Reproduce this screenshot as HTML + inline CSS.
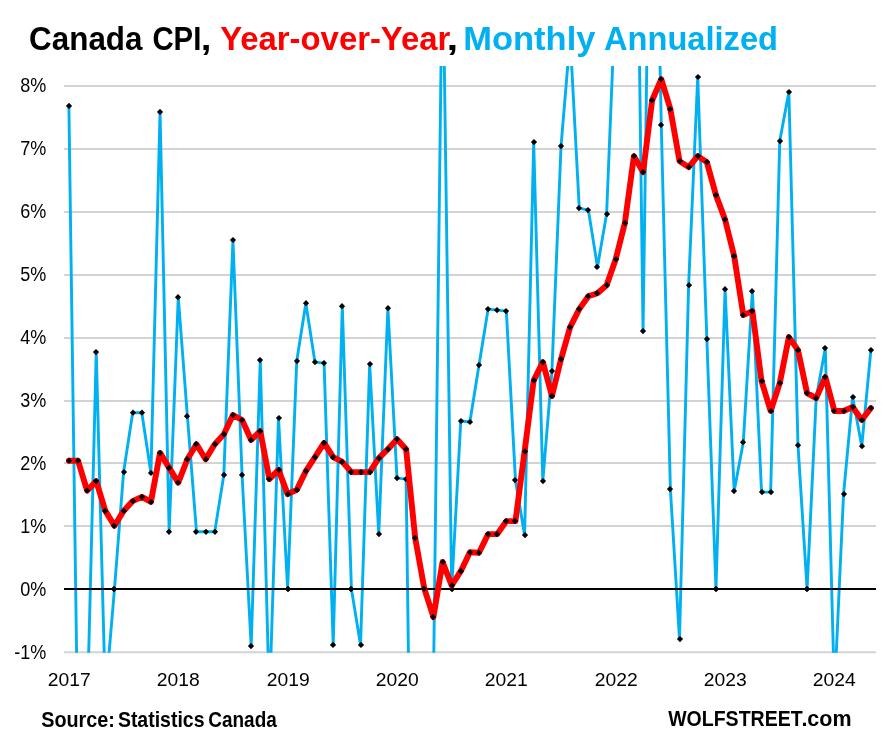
<!DOCTYPE html>
<html lang="en"><head><meta charset="utf-8"><title>Canada CPI, Year-over-Year, Monthly Annualized</title>
<style>
html,body{margin:0;padding:0;background:#fff;}
body{width:883px;height:745px;overflow:hidden;}
svg{display:block;}
text{font-family:"Liberation Sans",sans-serif;}
.ax{font-size:19.7px;fill:#000;}
.ay{font-size:17.8px;fill:#000;}
.ti{font-size:34.1px;font-weight:bold;}
.ft{font-size:22px;font-weight:bold;}
</style></head><body>
<svg width="883" height="745" viewBox="0 0 883 745">
<rect width="883" height="745" fill="#fff"/>
<defs><clipPath id="plot"><rect x="64.0" y="66.0" width="812.0" height="586.8000000000001"/></clipPath></defs>
<line x1="64.0" x2="876.0" y1="652.20" y2="652.20" stroke="#d3d3d3" stroke-width="1.9"/>
<line x1="64.0" x2="876.0" y1="526.00" y2="526.00" stroke="#d3d3d3" stroke-width="1.9"/>
<line x1="64.0" x2="876.0" y1="463.00" y2="463.00" stroke="#d3d3d3" stroke-width="1.9"/>
<line x1="64.0" x2="876.0" y1="401.00" y2="401.00" stroke="#d3d3d3" stroke-width="1.9"/>
<line x1="64.0" x2="876.0" y1="338.00" y2="338.00" stroke="#d3d3d3" stroke-width="1.9"/>
<line x1="64.0" x2="876.0" y1="275.00" y2="275.00" stroke="#d3d3d3" stroke-width="1.9"/>
<line x1="64.0" x2="876.0" y1="212.00" y2="212.00" stroke="#d3d3d3" stroke-width="1.9"/>
<line x1="64.0" x2="876.0" y1="149.00" y2="149.00" stroke="#d3d3d3" stroke-width="1.9"/>
<line x1="64.0" x2="876.0" y1="86.00" y2="86.00" stroke="#d3d3d3" stroke-width="1.9"/>
<g clip-path="url(#plot)">
<polyline points="68.90,105.90 78.01,755.00 87.13,716.00 96.24,352.10 105.35,697.00 114.47,589.00 123.58,472.10 132.69,412.70 141.81,412.70 150.92,473.00 160.04,111.90 169.15,531.80 178.26,297.20 187.38,416.20 196.49,531.80 205.60,531.80 214.72,531.80 223.83,474.90 232.94,240.00 242.06,474.90 251.17,646.10 260.28,360.10 269.40,702.00 278.51,418.00 287.62,589.00 296.74,361.10 305.85,303.20 314.96,362.10 324.08,363.10 333.19,644.90 342.31,306.20 351.42,589.00 360.53,644.90 369.65,364.10 378.76,534.10 387.87,308.20 396.99,478.10 406.10,479.10 415.21,1163.00 424.33,1100.00 433.44,685.00 442.55,-61.00 451.67,589.00 460.78,421.00 469.89,422.00 479.01,365.10 488.12,309.10 497.23,310.10 506.35,311.10 515.46,480.10 524.58,535.10 533.69,142.10 542.80,481.10 551.92,371.10 561.03,146.10 570.14,37.00 579.26,208.10 588.37,210.10 597.48,266.90 606.60,214.10 615.71,-10.00 624.82,-100.00 633.94,-358.00 643.05,331.10 652.16,-320.00 661.28,124.90 670.39,489.10 679.50,639.10 688.62,285.20 697.73,77.00 706.85,339.10 715.96,589.00 725.07,289.20 734.19,491.10 743.30,442.20 752.41,291.20 761.53,492.10 770.64,492.10 779.75,141.10 788.87,92.00 797.98,445.20 807.09,589.00 816.21,398.00 825.32,348.10 834.43,693.00 843.55,494.10 852.66,397.00 861.77,446.20 870.89,350.10" fill="none" stroke="#00b0f0" stroke-width="2.9" stroke-linejoin="round" stroke-linecap="round"/>
<path d="M65.9 105.9L69.0 102.8L72.1 105.9L69.0 109.0ZM92.9 352.1L96.0 349.0L99.1 352.1L96.0 355.2ZM110.9 589.0L114.0 585.9L117.1 589.0L114.0 592.1ZM120.9 472.1L124.0 469.0L127.1 472.1L124.0 475.2ZM129.9 412.7L133.0 409.6L136.1 412.7L133.0 415.8ZM138.9 412.7L142.0 409.6L145.1 412.7L142.0 415.8ZM147.9 473.0L151.0 469.9L154.1 473.0L151.0 476.1ZM156.9 111.9L160.0 108.8L163.1 111.9L160.0 115.0ZM165.9 531.8L169.0 528.7L172.1 531.8L169.0 534.9ZM174.9 297.2L178.0 294.1L181.1 297.2L178.0 300.3ZM183.9 416.2L187.0 413.1L190.1 416.2L187.0 419.3ZM192.9 531.8L196.0 528.7L199.1 531.8L196.0 534.9ZM202.9 531.8L206.0 528.7L209.1 531.8L206.0 534.9ZM211.9 531.8L215.0 528.7L218.1 531.8L215.0 534.9ZM220.9 474.9L224.0 471.8L227.1 474.9L224.0 478.0ZM229.9 240.0L233.0 236.9L236.1 240.0L233.0 243.1ZM238.9 474.9L242.0 471.8L245.1 474.9L242.0 478.0ZM247.9 646.1L251.0 643.0L254.1 646.1L251.0 649.2ZM256.9 360.1L260.0 357.0L263.1 360.1L260.0 363.2ZM275.9 418.0L279.0 414.9L282.1 418.0L279.0 421.1ZM284.9 589.0L288.0 585.9L291.1 589.0L288.0 592.1ZM293.9 361.1L297.0 358.0L300.1 361.1L297.0 364.2ZM302.9 303.2L306.0 300.1L309.1 303.2L306.0 306.3ZM311.9 362.1L315.0 359.0L318.1 362.1L315.0 365.2ZM320.9 363.1L324.0 360.0L327.1 363.1L324.0 366.2ZM329.9 644.9L333.0 641.8L336.1 644.9L333.0 648.0ZM338.9 306.2L342.0 303.1L345.1 306.2L342.0 309.3ZM347.9 589.0L351.0 585.9L354.1 589.0L351.0 592.1ZM357.9 644.9L361.0 641.8L364.1 644.9L361.0 648.0ZM366.9 364.1L370.0 361.0L373.1 364.1L370.0 367.2ZM375.9 534.1L379.0 531.0L382.1 534.1L379.0 537.2ZM384.9 308.2L388.0 305.1L391.1 308.2L388.0 311.3ZM393.9 478.1L397.0 475.0L400.1 478.1L397.0 481.2ZM402.9 479.1L406.0 476.0L409.1 479.1L406.0 482.2ZM448.9 589.0L452.0 585.9L455.1 589.0L452.0 592.1ZM457.9 421.0L461.0 417.9L464.1 421.0L461.0 424.1ZM466.9 422.0L470.0 418.9L473.1 422.0L470.0 425.1ZM475.9 365.1L479.0 362.0L482.1 365.1L479.0 368.2ZM484.9 309.1L488.0 306.0L491.1 309.1L488.0 312.2ZM493.9 310.1L497.0 307.0L500.1 310.1L497.0 313.2ZM502.9 311.1L506.0 308.0L509.1 311.1L506.0 314.2ZM511.9 480.1L515.0 477.0L518.1 480.1L515.0 483.2ZM521.9 535.1L525.0 532.0L528.1 535.1L525.0 538.2ZM530.9 142.1L534.0 139.0L537.1 142.1L534.0 145.2ZM539.9 481.1L543.0 478.0L546.1 481.1L543.0 484.2ZM548.9 371.1L552.0 368.0L555.1 371.1L552.0 374.2ZM557.9 146.1L561.0 143.0L564.1 146.1L561.0 149.2ZM575.9 208.1L579.0 205.0L582.1 208.1L579.0 211.2ZM584.9 210.1L588.0 207.0L591.1 210.1L588.0 213.2ZM593.9 266.9L597.0 263.8L600.1 266.9L597.0 270.0ZM603.9 214.1L607.0 211.0L610.1 214.1L607.0 217.2ZM639.9 331.1L643.0 328.0L646.1 331.1L643.0 334.2ZM657.9 124.9L661.0 121.8L664.1 124.9L661.0 128.0ZM666.9 489.1L670.0 486.0L673.1 489.1L670.0 492.2ZM676.9 639.1L680.0 636.0L683.1 639.1L680.0 642.2ZM685.9 285.2L689.0 282.1L692.1 285.2L689.0 288.3ZM694.9 77.0L698.0 73.9L701.1 77.0L698.0 80.1ZM703.9 339.1L707.0 336.0L710.1 339.1L707.0 342.2ZM712.9 589.0L716.0 585.9L719.1 589.0L716.0 592.1ZM721.9 289.2L725.0 286.1L728.1 289.2L725.0 292.3ZM730.9 491.1L734.0 488.0L737.1 491.1L734.0 494.2ZM739.9 442.2L743.0 439.1L746.1 442.2L743.0 445.3ZM748.9 291.2L752.0 288.1L755.1 291.2L752.0 294.3ZM758.9 492.1L762.0 489.0L765.1 492.1L762.0 495.2ZM767.9 492.1L771.0 489.0L774.1 492.1L771.0 495.2ZM776.9 141.1L780.0 138.0L783.1 141.1L780.0 144.2ZM785.9 92.0L789.0 88.9L792.1 92.0L789.0 95.1ZM794.9 445.2L798.0 442.1L801.1 445.2L798.0 448.3ZM803.9 589.0L807.0 585.9L810.1 589.0L807.0 592.1ZM812.9 398.0L816.0 394.9L819.1 398.0L816.0 401.1ZM821.9 348.1L825.0 345.0L828.1 348.1L825.0 351.2ZM840.9 494.1L844.0 491.0L847.1 494.1L844.0 497.2ZM849.9 397.0L853.0 393.9L856.1 397.0L853.0 400.1ZM858.9 446.2L862.0 443.1L865.1 446.2L862.0 449.3ZM867.9 350.1L871.0 347.0L874.1 350.1L871.0 353.2Z" fill="#000"/>
</g>
<line x1="64.0" x2="876.0" y1="589.00" y2="589.00" stroke="#000" stroke-width="2.2"/>
<g clip-path="url(#plot)">
<path d="M110.9 589.0L114.0 585.9L117.1 589.0L114.0 592.1ZM284.9 589.0L288.0 585.9L291.1 589.0L288.0 592.1ZM347.9 589.0L351.0 585.9L354.1 589.0L351.0 592.1ZM448.9 589.0L452.0 585.9L455.1 589.0L452.0 592.1ZM712.9 589.0L716.0 585.9L719.1 589.0L716.0 592.1ZM803.9 589.0L807.0 585.9L810.1 589.0L807.0 592.1Z" fill="#000"/>
<polyline points="68.90,460.70 78.01,460.70 87.13,490.60 96.24,481.10 105.35,510.90 114.47,525.80 123.58,510.90 132.69,501.10 141.81,496.90 150.92,501.90 160.04,452.90 169.15,467.90 178.26,482.60 187.38,459.20 196.49,444.20 205.60,459.20 214.72,444.20 223.83,434.20 232.94,415.00 242.06,420.00 251.17,439.90 260.28,431.20 269.40,479.10 278.51,469.90 287.62,494.10 296.74,489.90 305.85,471.10 314.96,457.20 324.08,442.90 333.19,457.20 342.31,461.90 351.42,472.10 360.53,472.10 369.65,472.10 378.76,458.20 387.87,449.20 396.99,439.20 406.10,449.20 415.21,538.00 424.33,588.70 433.44,617.10 442.55,562.00 451.67,585.40 460.78,571.20 469.89,552.30 479.01,552.80 488.12,534.10 497.23,534.10 506.35,521.10 515.46,521.10 524.58,451.40 533.69,380.40 542.80,362.10 551.92,396.10 561.03,359.10 570.14,327.10 579.26,309.10 588.37,296.20 597.48,293.20 606.60,285.20 615.71,259.20 624.82,223.20 633.94,156.10 643.05,172.10 652.16,100.20 661.28,79.20 670.39,109.20 679.50,161.10 688.62,167.10 697.73,156.10 706.85,162.10 715.96,195.10 725.07,219.60 734.19,256.20 743.30,315.10 752.41,311.10 761.53,381.10 770.64,411.00 779.75,383.10 788.87,337.10 797.98,350.10 807.09,393.10 816.21,398.10 825.32,377.10 834.43,411.00 843.55,411.00 852.66,407.00 861.77,420.00 870.89,408.00" fill="none" stroke="#ff0000" stroke-width="5.9" stroke-linejoin="round" stroke-linecap="round"/>
<path d="M65.9 460.7L69.0 457.6L72.1 460.7L69.0 463.8ZM74.9 460.7L78.0 457.6L81.1 460.7L78.0 463.8ZM83.9 490.6L87.0 487.5L90.1 490.6L87.0 493.7ZM92.9 481.1L96.0 478.0L99.1 481.1L96.0 484.2ZM101.9 510.9L105.0 507.8L108.1 510.9L105.0 514.0ZM110.9 525.8L114.0 522.7L117.1 525.8L114.0 528.9ZM120.9 510.9L124.0 507.8L127.1 510.9L124.0 514.0ZM129.9 501.1L133.0 498.0L136.1 501.1L133.0 504.2ZM138.9 496.9L142.0 493.8L145.1 496.9L142.0 500.0ZM147.9 501.9L151.0 498.8L154.1 501.9L151.0 505.0ZM156.9 452.9L160.0 449.8L163.1 452.9L160.0 456.0ZM165.9 467.9L169.0 464.8L172.1 467.9L169.0 471.0ZM174.9 482.6L178.0 479.5L181.1 482.6L178.0 485.7ZM183.9 459.2L187.0 456.1L190.1 459.2L187.0 462.3ZM192.9 444.2L196.0 441.1L199.1 444.2L196.0 447.3ZM202.9 459.2L206.0 456.1L209.1 459.2L206.0 462.3ZM211.9 444.2L215.0 441.1L218.1 444.2L215.0 447.3ZM220.9 434.2L224.0 431.1L227.1 434.2L224.0 437.3ZM229.9 415.0L233.0 411.9L236.1 415.0L233.0 418.1ZM238.9 420.0L242.0 416.9L245.1 420.0L242.0 423.1ZM247.9 439.9L251.0 436.8L254.1 439.9L251.0 443.0ZM256.9 431.2L260.0 428.1L263.1 431.2L260.0 434.3ZM265.9 479.1L269.0 476.0L272.1 479.1L269.0 482.2ZM275.9 469.9L279.0 466.8L282.1 469.9L279.0 473.0ZM284.9 494.1L288.0 491.0L291.1 494.1L288.0 497.2ZM293.9 489.9L297.0 486.8L300.1 489.9L297.0 493.0ZM302.9 471.1L306.0 468.0L309.1 471.1L306.0 474.2ZM311.9 457.2L315.0 454.1L318.1 457.2L315.0 460.3ZM320.9 442.9L324.0 439.8L327.1 442.9L324.0 446.0ZM329.9 457.2L333.0 454.1L336.1 457.2L333.0 460.3ZM338.9 461.9L342.0 458.8L345.1 461.9L342.0 465.0ZM347.9 472.1L351.0 469.0L354.1 472.1L351.0 475.2ZM357.9 472.1L361.0 469.0L364.1 472.1L361.0 475.2ZM366.9 472.1L370.0 469.0L373.1 472.1L370.0 475.2ZM375.9 458.2L379.0 455.1L382.1 458.2L379.0 461.3ZM384.9 449.2L388.0 446.1L391.1 449.2L388.0 452.3ZM393.9 439.2L397.0 436.1L400.1 439.2L397.0 442.3ZM402.9 449.2L406.0 446.1L409.1 449.2L406.0 452.3ZM411.9 538.0L415.0 534.9L418.1 538.0L415.0 541.1ZM420.9 588.7L424.0 585.6L427.1 588.7L424.0 591.8ZM429.9 617.1L433.0 614.0L436.1 617.1L433.0 620.2ZM439.9 562.0L443.0 558.9L446.1 562.0L443.0 565.1ZM448.9 585.4L452.0 582.3L455.1 585.4L452.0 588.5ZM457.9 571.2L461.0 568.1L464.1 571.2L461.0 574.3ZM466.9 552.3L470.0 549.2L473.1 552.3L470.0 555.4ZM475.9 552.8L479.0 549.7L482.1 552.8L479.0 555.9ZM484.9 534.1L488.0 531.0L491.1 534.1L488.0 537.2ZM493.9 534.1L497.0 531.0L500.1 534.1L497.0 537.2ZM502.9 521.1L506.0 518.0L509.1 521.1L506.0 524.2ZM511.9 521.1L515.0 518.0L518.1 521.1L515.0 524.2ZM521.9 451.4L525.0 448.3L528.1 451.4L525.0 454.5ZM530.9 380.4L534.0 377.3L537.1 380.4L534.0 383.5ZM539.9 362.1L543.0 359.0L546.1 362.1L543.0 365.2ZM548.9 396.1L552.0 393.0L555.1 396.1L552.0 399.2ZM557.9 359.1L561.0 356.0L564.1 359.1L561.0 362.2ZM566.9 327.1L570.0 324.0L573.1 327.1L570.0 330.2ZM575.9 309.1L579.0 306.0L582.1 309.1L579.0 312.2ZM584.9 296.2L588.0 293.1L591.1 296.2L588.0 299.3ZM593.9 293.2L597.0 290.1L600.1 293.2L597.0 296.3ZM603.9 285.2L607.0 282.1L610.1 285.2L607.0 288.3ZM612.9 259.2L616.0 256.1L619.1 259.2L616.0 262.3ZM621.9 223.2L625.0 220.1L628.1 223.2L625.0 226.3ZM630.9 156.1L634.0 153.0L637.1 156.1L634.0 159.2ZM639.9 172.1L643.0 169.0L646.1 172.1L643.0 175.2ZM648.9 100.2L652.0 97.1L655.1 100.2L652.0 103.3ZM657.9 79.2L661.0 76.1L664.1 79.2L661.0 82.3ZM666.9 109.2L670.0 106.1L673.1 109.2L670.0 112.3ZM676.9 161.1L680.0 158.0L683.1 161.1L680.0 164.2ZM685.9 167.1L689.0 164.0L692.1 167.1L689.0 170.2ZM694.9 156.1L698.0 153.0L701.1 156.1L698.0 159.2ZM703.9 162.1L707.0 159.0L710.1 162.1L707.0 165.2ZM712.9 195.1L716.0 192.0L719.1 195.1L716.0 198.2ZM721.9 219.6L725.0 216.5L728.1 219.6L725.0 222.7ZM730.9 256.2L734.0 253.1L737.1 256.2L734.0 259.3ZM739.9 315.1L743.0 312.0L746.1 315.1L743.0 318.2ZM748.9 311.1L752.0 308.0L755.1 311.1L752.0 314.2ZM758.9 381.1L762.0 378.0L765.1 381.1L762.0 384.2ZM767.9 411.0L771.0 407.9L774.1 411.0L771.0 414.1ZM776.9 383.1L780.0 380.0L783.1 383.1L780.0 386.2ZM785.9 337.1L789.0 334.0L792.1 337.1L789.0 340.2ZM794.9 350.1L798.0 347.0L801.1 350.1L798.0 353.2ZM803.9 393.1L807.0 390.0L810.1 393.1L807.0 396.2ZM812.9 398.1L816.0 395.0L819.1 398.1L816.0 401.2ZM821.9 377.1L825.0 374.0L828.1 377.1L825.0 380.2ZM830.9 411.0L834.0 407.9L837.1 411.0L834.0 414.1ZM840.9 411.0L844.0 407.9L847.1 411.0L844.0 414.1ZM849.9 407.0L853.0 403.9L856.1 407.0L853.0 410.1ZM858.9 420.0L862.0 416.9L865.1 420.0L862.0 423.1ZM867.9 408.0L871.0 404.9L874.1 408.0L871.0 411.1Z" fill="#000"/>
</g>
<text transform="translate(46.3,658.7) scale(0.915,1)" text-anchor="end" class="ax">-1%</text>
<text transform="translate(46.3,595.7) scale(0.915,1)" text-anchor="end" class="ax">0%</text>
<text transform="translate(46.3,532.7) scale(0.915,1)" text-anchor="end" class="ax">1%</text>
<text transform="translate(46.3,469.7) scale(0.915,1)" text-anchor="end" class="ax">2%</text>
<text transform="translate(46.3,406.7) scale(0.915,1)" text-anchor="end" class="ax">3%</text>
<text transform="translate(46.3,343.7) scale(0.915,1)" text-anchor="end" class="ax">4%</text>
<text transform="translate(46.3,280.7) scale(0.915,1)" text-anchor="end" class="ax">5%</text>
<text transform="translate(46.3,217.7) scale(0.915,1)" text-anchor="end" class="ax">6%</text>
<text transform="translate(46.3,154.7) scale(0.915,1)" text-anchor="end" class="ax">7%</text>
<text transform="translate(46.3,91.7) scale(0.915,1)" text-anchor="end" class="ax">8%</text>
<text transform="translate(69.3,686.2) scale(1.085,1)" text-anchor="middle" class="ay">2017</text>
<text transform="translate(178.3,686.2) scale(1.085,1)" text-anchor="middle" class="ay">2018</text>
<text transform="translate(288.3,686.2) scale(1.085,1)" text-anchor="middle" class="ay">2019</text>
<text transform="translate(397.3,686.2) scale(1.085,1)" text-anchor="middle" class="ay">2020</text>
<text transform="translate(506.3,686.2) scale(1.085,1)" text-anchor="middle" class="ay">2021</text>
<text transform="translate(616.3,686.2) scale(1.085,1)" text-anchor="middle" class="ay">2022</text>
<text transform="translate(725.3,686.2) scale(1.085,1)" text-anchor="middle" class="ay">2023</text>
<text transform="translate(834.3,686.2) scale(1.085,1)" text-anchor="middle" class="ay">2024</text>
<text x="29.1" y="50" class="ti" fill="#000" textLength="113.4" lengthAdjust="spacingAndGlyphs">Canada</text>
<text x="152.4" y="50" class="ti" fill="#000" textLength="49.0" lengthAdjust="spacingAndGlyphs">CPI</text>
<text x="200.8" y="50" class="ti" fill="#000" textLength="10.7" lengthAdjust="spacingAndGlyphs">,</text>
<text x="220.2" y="50" class="ti" fill="#ff0000" textLength="230.1" lengthAdjust="spacingAndGlyphs">Year-over-Year</text>
<text x="446.6" y="50" class="ti" fill="#000" textLength="11.7" lengthAdjust="spacingAndGlyphs">,</text>
<text x="463.3" y="50" class="ti" fill="#00b0f0" textLength="132.1" lengthAdjust="spacingAndGlyphs">Monthly</text>
<text x="604.0" y="50" class="ti" fill="#00b0f0" textLength="174.0" lengthAdjust="spacingAndGlyphs">Annualized</text>
<text x="41.2" y="726.9" class="ft" fill="#000" textLength="73.7" lengthAdjust="spacingAndGlyphs">Source:</text>
<text x="117.9" y="726.9" class="ft" fill="#000" textLength="86.6" lengthAdjust="spacingAndGlyphs">Statistics</text>
<text x="208.3" y="726.9" class="ft" fill="#000" textLength="68.5" lengthAdjust="spacingAndGlyphs">Canada</text>
<text x="668.2" y="726.4" class="ft" fill="#000" textLength="134.4" lengthAdjust="spacingAndGlyphs">WOLFSTREET</text>
<text x="801.4" y="726.4" class="ft" fill="#000" textLength="50.1" lengthAdjust="spacingAndGlyphs">.com</text>
</svg>
</body></html>
